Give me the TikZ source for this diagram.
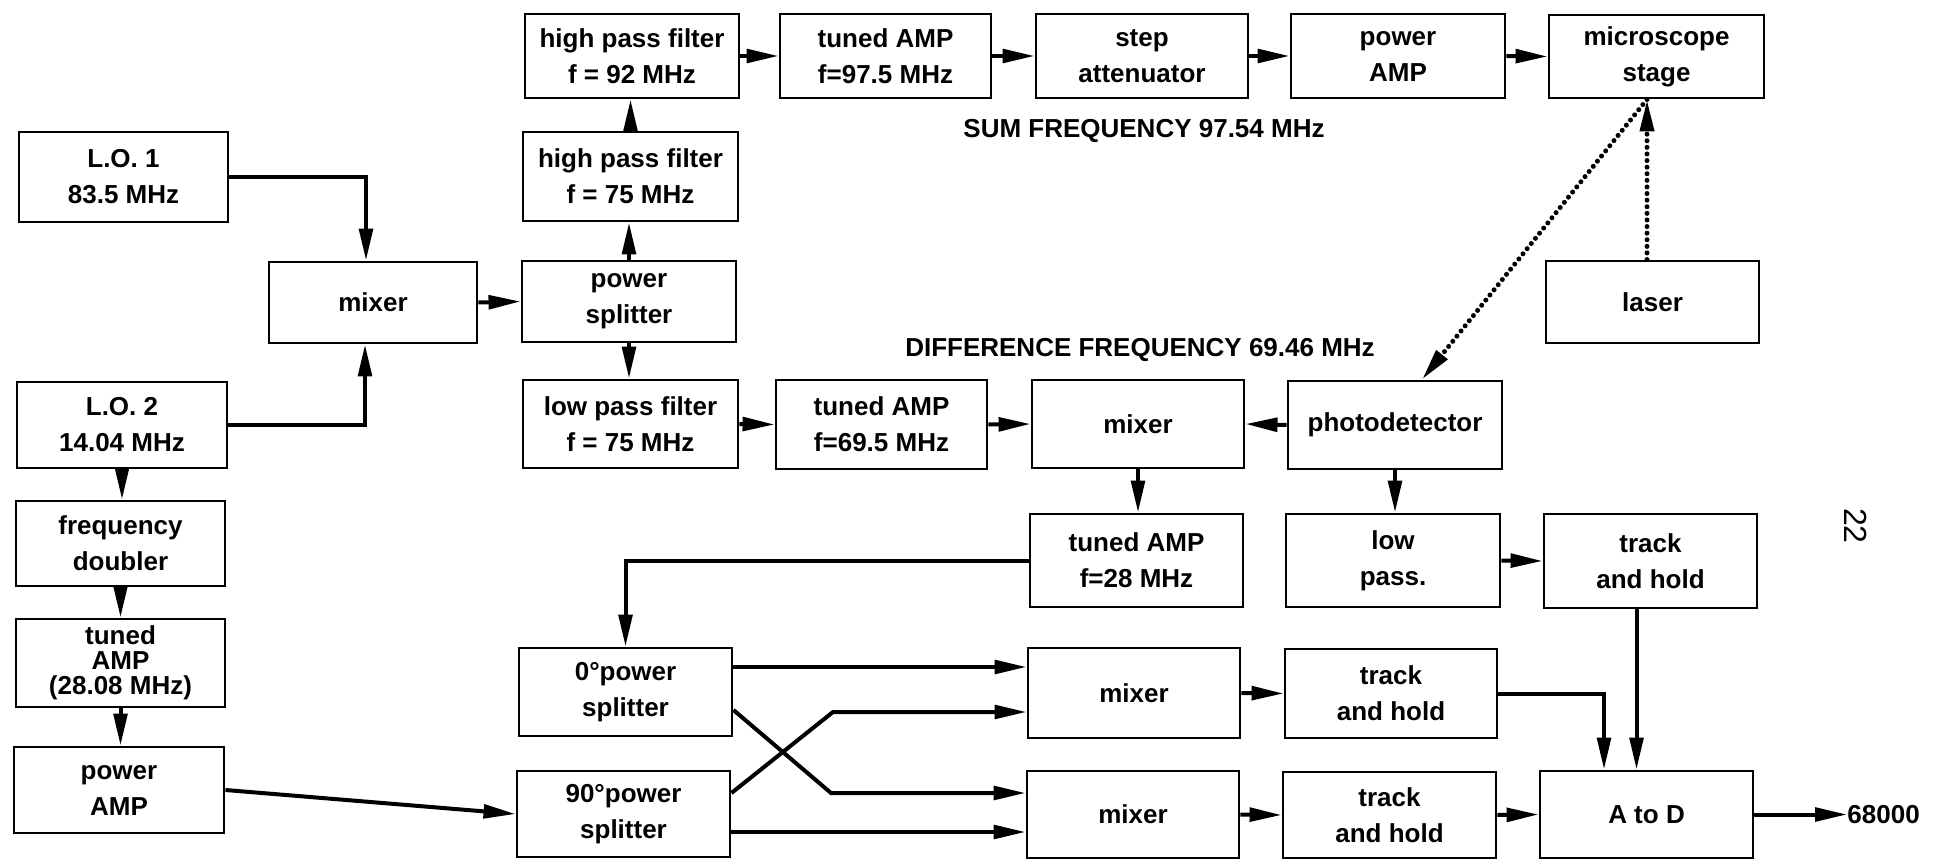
\documentclass[tikz,border=0pt]{standalone}
\usepackage{fontspec}
\setmainfont{Liberation Sans}
\usetikzlibrary{arrows.meta}
\tikzset{
  blk/.style={draw, line width=1.45pt, align=center, inner sep=0pt,
    font=\fontsize{13}{18}\selectfont\bfseries},
  conn/.style={line width=2pt, -{Triangle[length=16pt,width=6.8pt]}},
  dotc/.style={conn, line cap=round, dash pattern=on 0pt off 3.3pt, line width=2.5pt},
  lbl/.style={font=\fontsize{13}{18}\selectfont\bfseries, inner sep=0pt},
}
\newcommand\mkbox[7][]{\node[blk,#1,minimum width={(#5-#3)*0.5pt},minimum height={(#6-#4)*0.5pt}] (#2) at ({(#3+#5)/2},{(#4+#6)/2}) {#7};}
\begin{document}
\begin{tikzpicture}[x=0.5pt,y=-0.5pt]
\useasboundingbox (0,0) rectangle (1936,860);
% left column
\mkbox{lo1}{19}{132}{228}{222}{L.O. 1\\83.5 MHz}
\mkbox{lo2}{17}{382}{227}{468}{L.O. 2\\14.04 MHz}
\mkbox{fd}{16}{501}{225}{586}{frequency\\doubler}
\mkbox[font=\fontsize{13}{12.5}\selectfont\bfseries]{ta}{16}{619}{225}{707}{tuned\\AMP\\(28.08 MHz)}
\mkbox{pa}{14}{747}{224}{833}{power\\AMP}
\mkbox{mix1}{269}{262}{477}{343}{mixer}
% second column
\mkbox{hpf92}{525}{14}{739}{98}{high pass filter\\f = 92 MHz}
\mkbox{hpf75}{523}{132}{738}{221}{high pass filter\\f = 75 MHz}
\mkbox{ps}{522}{261}{736}{342}{power\\splitter}
\mkbox{lpf}{523}{380}{738}{468}{low pass filter\\f = 75 MHz}
\mkbox{ps0}{519}{648}{732}{736}{0°power\\splitter}
\mkbox{ps90}{517}{771}{730}{857}{90°power\\splitter}
% top row
\mkbox{ta97}{780}{14}{991}{98}{tuned AMP\\f=97.5 MHz}
\mkbox{step}{1036}{14}{1248}{98}{step\\attenuator}
\mkbox{pwr}{1291}{14}{1505}{98}{power\\AMP}
\mkbox{micro}{1549}{15}{1764}{98}{microscope\\stage}
\mkbox{laser}{1546}{261}{1759}{343}{laser}
% middle
\mkbox{ta69}{776}{380}{987}{469}{tuned AMP\\f=69.5 MHz}
\mkbox{mix2}{1032}{380}{1244}{468}{mixer}
\mkbox{pd}{1288}{381}{1502}{469}{photodetector}
\mkbox{ta28}{1030}{514}{1243}{607}{tuned AMP\\f=28 MHz}
\mkbox{lp}{1286}{514}{1500}{607}{low\\pass.}
\mkbox{thc}{1544}{514}{1757}{608}{track\\and hold}
% bottom
\mkbox{mixa}{1028}{648}{1240}{738}{mixer}
\mkbox{tha}{1285}{649}{1497}{738}{track\\and hold}
\mkbox{mixb}{1027}{771}{1239}{858}{mixer}
\mkbox{thb}{1283}{772}{1496}{858}{track\\and hold}
\mkbox{atod}{1540}{771}{1753}{858}{A to D}
% labels
\node[lbl] (sum) at (1144,131) {SUM FREQUENCY 97.54 MHz};
\node[lbl] (diff) at (1140,350) {DIFFERENCE FREQUENCY 69.46 MHz};
\node[lbl, anchor=west] (out) at (1847,814.5) {68000};
\node[font=\fontsize{16}{16}\selectfont, rotate=-90, inner sep=0pt] (pg) at (1856,526) {22};
% connectors
\draw[conn] (lo1.east) -| ([xshift=-3.5pt]mix1.north);
\draw[conn] (lo2.east) -| ([xshift=-4pt]mix1.south);
\draw[conn] (mix1.east) -- (ps.west);
\draw[conn] (ps.north) -- (ps.north |- hpf75.south);
\draw[conn] (hpf75.north) -- (hpf75.north |- hpf92.south);
\draw[conn] (ps.south) -- (ps.south |- lpf.north);
\draw[conn] (hpf92.east) -- (ta97.west);
\draw[conn] (ta97.east) -- (step.west);
\draw[conn] (step.east) -- (pwr.west);
\draw[conn] (pwr.east) -- (micro.west);
\draw[dotc] ([xshift=-4.75pt]micro.south) -- ([xshift=13.5pt]pd.north);
\draw[dotc] ([xshift=-2.75pt]laser.north) -- ([xshift=-4.75pt]micro.south);
\draw[conn] (lpf.east) -- (ta69.west);
\draw[conn] (ta69.east) -- (mix2.west);
\draw[conn] (pd.west) -- (mix2.east);
\draw[conn] (mix2.south) -- (mix2.south |- ta28.north);
\draw[conn] (pd.south) -- (pd.south |- lp.north);
\draw[conn] (lp.east) -- (thc.west);
\draw[conn] (ta28.west) -| (ps0.north);
\draw[conn] (lo2.south) -- (lo2.south |- fd.north);
\draw[conn] (fd.south) -- (fd.south |- ta.north);
\draw[conn] (ta.south) -- (ta.south |- pa.north);
\draw[conn] (pa.east) -- (ps90.west);
\coordinate (bA) at (831,793);
\coordinate (bB) at (833,712);
\draw[conn] ([yshift=12.5pt]ps0.east) coordinate (s1) -- (s1 -| mixa.west);
\draw[conn] ([yshift=-9pt]ps0.east) -- (bA) -- (bA -| mixb.west);
\draw[conn] ([yshift=10.5pt]ps90.east) -- (bB) -- (bB -| mixa.west);
\draw[conn] ([yshift=-9pt]ps90.east) coordinate (s2) -- (s2 -| mixb.west);
\draw[conn] (mixa.east) -- (tha.west);
\draw[conn] (mixb.east) -- (thb.west);
\draw[conn] (tha.east) -| ([xshift=-21.25pt]atod.north);
\draw[conn] ([xshift=-7pt]thc.south) -- ([xshift=-7pt]thc.south |- atod.north);
\draw[conn] (thb.east) -- (atod.west);
\draw[conn] (atod.east) -- (atod.east -| out.west);
\end{tikzpicture}
\end{document}
